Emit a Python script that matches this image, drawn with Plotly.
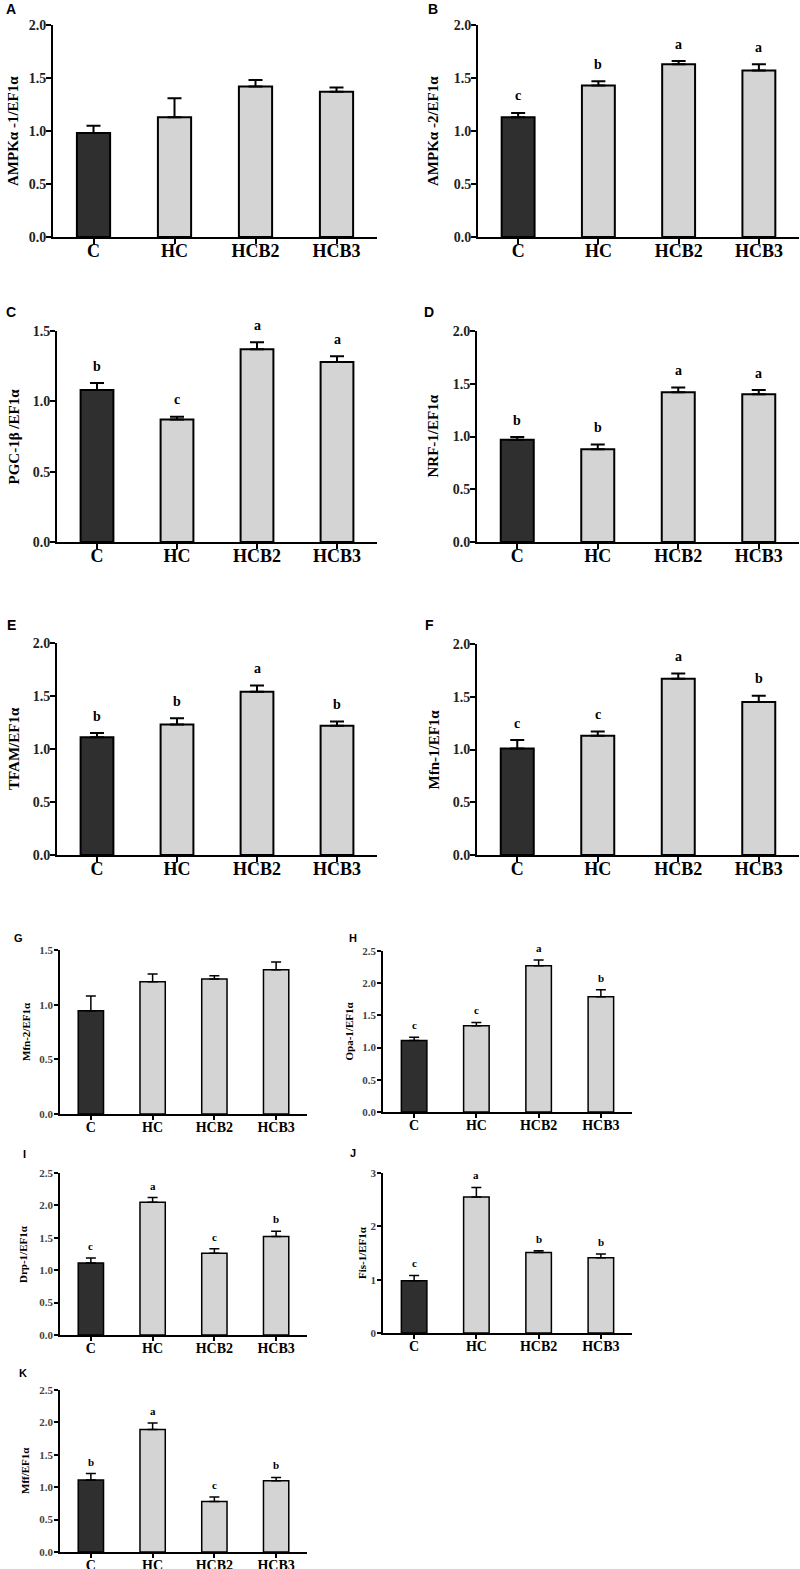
import plotly.graph_objects as go

W, H = 800, 1569

categories = ["C", "HC", "HCB2", "HCB3"]

A_mean = [0.98, 1.13, 1.42, 1.37]
A_err = [0.07, 0.18, 0.06, 0.04]
A_let = ["", "", "", ""]

B_mean = [1.13, 1.43, 1.63, 1.57]
B_err = [0.04, 0.04, 0.03, 0.06]
B_let = ["c", "b", "a", "a"]

C_mean = [1.08, 0.87, 1.37, 1.28]
C_err = [0.05, 0.02, 0.05, 0.04]
C_let = ["b", "c", "a", "a"]

D_mean = [0.97, 0.88, 1.42, 1.40]
D_err = [0.025, 0.045, 0.045, 0.04]
D_let = ["b", "b", "a", "a"]

E_mean = [1.11, 1.23, 1.54, 1.22]
E_err = [0.04, 0.06, 0.06, 0.04]
E_let = ["b", "b", "a", "b"]

F_mean = [1.01, 1.13, 1.67, 1.45]
F_err = [0.08, 0.04, 0.05, 0.06]
F_let = ["c", "c", "a", "b"]

G_mean = [0.945, 1.21, 1.235, 1.32]
G_err = [0.135, 0.07, 0.03, 0.07]
G_let = ["", "", "", ""]

H_mean = [1.11, 1.34, 2.27, 1.79]
H_err = [0.05, 0.05, 0.09, 0.11]
H_let = ["c", "c", "a", "b"]

I_mean = [1.11, 2.05, 1.26, 1.52]
I_err = [0.08, 0.07, 0.07, 0.08]
I_let = ["c", "a", "c", "b"]

J_mean = [0.98, 2.55, 1.51, 1.41]
J_err = [0.10, 0.18, 0.03, 0.07]
J_let = ["c", "a", "b", "b"]

K_mean = [1.11, 1.89, 0.78, 1.10]
K_err = [0.10, 0.10, 0.07, 0.05]
K_let = ["b", "a", "c", "b"]

panel_names = ["A", "B", "C", "D", "E", "F", "G", "H", "I", "J", "K"]
y_titles = ["AMPKα -1/EF1α", "AMPKα -2/EF1α", "PGC-1β /EF1α", "NRF-1/EF1α",
            "TFAM/EF1α", "Mfn-1/EF1α", "Mfn-2/EF1α", "Opa-1/EF1α",
            "Drp-1/EF1α", "Fis-1/EF1α", "Mff/EF1α"]
y_max = [2.0, 2.0, 1.5, 2.0, 2.0, 2.0, 1.5, 2.5, 2.5, 3, 2.5]
y_step = [0.5, 0.5, 0.5, 0.5, 0.5, 0.5, 0.5, 0.5, 0.5, 1, 0.5]
means = [A_mean, B_mean, C_mean, D_mean, E_mean, F_mean, G_mean, H_mean, I_mean, J_mean, K_mean]
errs = [A_err, B_err, C_err, D_err, E_err, F_err, G_err, H_err, I_err, J_err, K_err]
lets = [A_let, B_let, C_let, D_let, E_let, F_let, G_let, H_let, I_let, J_let, K_let]

# geometry in pixels: x0, x1, ytop, ybottom, title_x, letter_x, letter_y, big
geom = [
    (53, 377, 25, 237, 13, 11, 9, True),
    (478, 799, 25, 237, 433, 433, 9, True),
    (57, 377, 331, 542, 14, 11, 312, True),
    (477, 799, 331, 542, 433, 429, 312, True),
    (57, 377, 643, 855, 14, 11, 625, True),
    (477, 799, 644, 855, 433, 429, 625, True),
    (60, 307, 950, 1114, 26, 18, 938, False),
    (383, 632, 951, 1112, 348, 353, 938, False),
    (60, 307, 1173, 1335, 23, 24, 1154, False),
    (383, 632, 1173, 1333, 362, 353, 1153, False),
    (60, 307, 1390, 1552, 25, 23, 1373, False),
]

SERIF = "Liberation Serif, Times New Roman, serif"
SANS = "Liberation Sans, Arial, sans-serif"
DARK = "#2f2f2f"
LIGHT = "#d4d4d4"

fig = go.Figure()
annotations = []
layout = {}

for i in range(11):
    x0, x1, yt, yb, tx, lx, ly, big = geom[i]
    n = i + 1
    xa = "x" if n == 1 else f"x{n}"
    ya = "y" if n == 1 else f"y{n}"
    lw = 2 if big else 1.5
    fig.add_trace(go.Bar(
        x=categories, y=means[i], xaxis=xa, yaxis=ya, width=0.41,
        marker=dict(color=[DARK, LIGHT, LIGHT, LIGHT], line=dict(color="black", width=lw)),
        error_y=dict(type="data", symmetric=False, array=errs[i], arrayminus=[0] * 4,
                     color="black", thickness=lw, width=7 if big else 5),
        showlegend=False, hoverinfo="skip",
    ))
    step = y_step[i]
    nt = int(round(y_max[i] / step))
    tvals = [k * step for k in range(nt + 1)]
    ttext = [f"{v:.0f}" if step >= 1 else f"{v:.1f}" for v in tvals]
    layout[f"xaxis{'' if n == 1 else n}"] = dict(
        domain=[x0 / W, x1 / W], anchor=ya, type="category", range=[-0.5, 3.5],
        showline=True, linecolor="black", linewidth=lw, ticks="outside",
        ticklen=5 if big else 4, tickwidth=lw, tickcolor="black", showgrid=False, zeroline=False,
        tickfont=dict(family=SERIF, size=18 if big else 14, color="black", weight="bold"),
        ticklabelstandoff=-9 if big else -5,
        fixedrange=True, automargin=False,
    )
    layout[f"yaxis{'' if n == 1 else n}"] = dict(
        domain=[1 - yb / H, 1 - yt / H], anchor=xa, range=[0, y_max[i]],
        tickvals=tvals, ticktext=ttext,
        showline=True, linecolor="black", linewidth=lw, ticks="outside",
        ticklen=5 if big else 4, tickwidth=lw, tickcolor="black", showgrid=False, zeroline=False,
        tickfont=dict(family=SERIF, size=14 if big else 11, color="#222" if big else "#444",
                      weight="bold"),
        ticklabelstandoff=-3 if big else -1,
        fixedrange=True, automargin=False,
    )
    annotations.append(dict(
        x=tx / W, y=1 - (yt + yb) / 2 / H, xref="paper", yref="paper",
        text=y_titles[i], textangle=-90, showarrow=False, xanchor="center", yanchor="middle",
        font=dict(family=SERIF, size=15 if big else 11, color="black", weight="bold"),
    ))
    annotations.append(dict(
        x=lx / W, y=1 - ly / H, xref="paper", yref="paper", text=panel_names[i],
        showarrow=False, xanchor="center", yanchor="middle",
        font=dict(family=SANS, size=14 if big else 11, color="black", weight="bold"),
    ))
    for c, m, e, t in zip(categories, means[i], errs[i], lets[i]):
        if t:
            annotations.append(dict(
                x=c, y=m + e, xref=xa, yref=ya, text=t, showarrow=False,
                xanchor="center", yanchor="middle", yshift=17 if big else 12,
                font=dict(family=SERIF, size=14 if big else 11, color="black", weight="bold"),
            ))

fig.update_layout(**layout)
fig.update_layout(
    width=W, height=H, autosize=False,
    margin=dict(l=0, r=0, t=0, b=0, pad=0),
    paper_bgcolor="white", plot_bgcolor="white",
    annotations=annotations, bargap=0.5,
)

fig.write_html(
    "out.html",
    config={"displayModeBar": False},
    post_script="document.body.style.margin='0';document.body.style.overflow='hidden';",
)
